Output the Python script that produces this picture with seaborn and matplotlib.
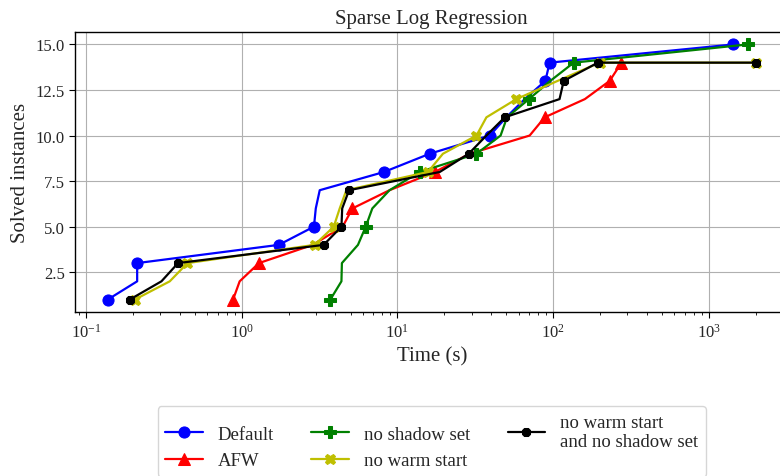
import numpy as np
import pandas as pd
import matplotlib
matplotlib.use("Agg")
import matplotlib.pyplot as plt
from matplotlib.ticker import MultipleLocator, FormatStrFormatter
import seaborn as sns

# Solve times (s) for each configuration; y is the running count of solved instances
default_t = [0.138, 0.213, 0.213, 1.73, 2.91, 2.99, 3.17, 8.2, 16.1, 39.2, 50, 65.7, 89.2, 95, 1440]
default_n = [1, 2, 3, 4, 5, 6, 7, 8, 9, 10, 11, 12, 13, 14, 15]

afw_t = [0.88, 0.97, 1.29, 2.86, 4.45, 5.14, 8.9, 17.4, 29.1, 70.7, 88.3, 160, 231, 275]
afw_n = [1, 2, 3, 4, 5, 6, 7, 8, 9, 10, 11, 12, 13, 14]

noshadow_t = [3.71, 4.37, 4.4, 5.58, 6.26, 6.9, 8.9, 13.9, 32.2, 46, 50.6, 70, 96, 135.6, 1780]
noshadow_n = [1, 2, 3, 4, 5, 6, 7, 8, 9, 10, 11, 12, 13, 14, 15]

nowarm_t = [0.206, 0.345, 0.448, 2.94, 3.9, 4.26, 4.7, 15.7, 19.6, 32.2, 37.3, 58.1, 107, 199, 2000]
nowarm_n = [1, 2, 3, 4, 5, 6, 7, 8, 9, 10, 11, 12, 13, 14, 14]

both_t = [0.191, 0.305, 0.39, 3.36, 4.37, 4.42, 4.89, 18.7, 28.7, 37.3, 48.9, 110, 117, 194, 2000]
both_n = [1, 2, 3, 4, 5, 6, 7, 8, 9, 10, 11, 12, 13, 14, 14]

labels = ["Default", "AFW", "no shadow set", "no warm start",
          "no warm start\nand no shadow set"]

sns.set_style("white")
plt.rcParams["font.family"] = ["Liberation Serif", "DejaVu Serif"]
plt.rcParams["mathtext.fontset"] = "custom"
plt.rcParams["mathtext.rm"] = "Liberation Serif"
plt.rcParams["mathtext.it"] = "Liberation Serif:italic"
plt.rcParams["xtick.bottom"] = True
plt.rcParams["ytick.left"] = True

fig = plt.figure(figsize=(7.8, 4.77), dpi=100)
ax = fig.add_axes([0.0967, 0.3432, 0.9136, 0.5883])

series = [
    (default_t, default_n, labels[0], "blue", "o", 8, [0, 2, 3, 4, 7, 8, 9, 12, 13, 14]),
    (afw_t, afw_n, labels[1], "red", "^", 8, [0, 2, 5, 7, 10, 12, 13]),
    (noshadow_t, noshadow_n, labels[2], "green", "P", 8, [0, 4, 7, 8, 11, 13, 14]),
    (nowarm_t, nowarm_n, labels[3], "y", "X", 7.5, [0, 2, 3, 4, 7, 9, 11, 13, 14]),
    (both_t, both_n, labels[4], "black", "8", 7, [0, 2, 3, 4, 6, 8, 10, 12, 13, 14]),
]

for t, n, lab, col, mk, ms, every in series:
    df = pd.DataFrame({"time": t, "solved": n})
    sns.lineplot(data=df, x="time", y="solved", ax=ax, color=col, marker=mk,
                 markersize=ms, markeredgecolor=col, markevery=every, linewidth=1.6,
                 estimator=None, sort=False, label=lab)

ax.set_xscale("log")
ax.margins(x=0.05, y=0.05)
ax.yaxis.set_major_locator(MultipleLocator(2.5))
ax.yaxis.set_major_formatter(FormatStrFormatter("%.1f"))
ax.grid(True, which="major", color="#b0b0b0", linewidth=0.8)
for s in ax.spines.values():
    s.set_color("black")
    s.set_linewidth(1.0)
ax.tick_params(axis="both", which="major", labelsize=12, length=4, color="black")
ax.tick_params(axis="x", which="minor", length=2.5, color="black")
ax.set_xlabel("Time (s)", fontsize=15)
ax.set_ylabel("Solved instances", fontsize=15)
ax.set_title("Sparse Log Regression", fontsize=15)

handles, labs = ax.get_legend_handles_labels()
ax.get_legend().remove()
fig.legend(handles, labs, loc="upper center", bbox_to_anchor=(0.5535, 0.1461),
           borderaxespad=0.0, ncol=3, fontsize=13.5, frameon=True, handlelength=2.0)

fig.savefig("out.png", dpi=100)
